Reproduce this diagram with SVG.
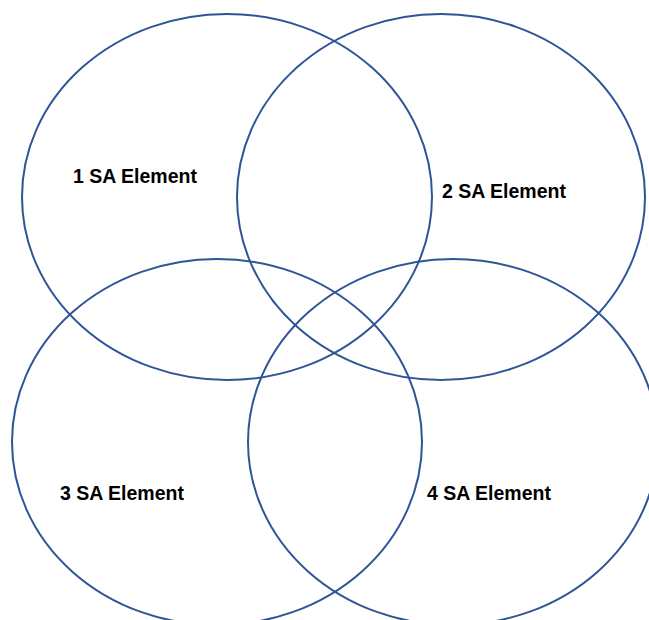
<svg xmlns="http://www.w3.org/2000/svg" width="649" height="620" viewBox="0 0 649 620">
<style>
.c{fill:none;stroke:#2F5597;stroke-width:2}
.t{font-family:"Liberation Sans",Arial,sans-serif;font-weight:bold;font-size:19.5px;fill:#000}
</style>
<rect width="649" height="620" fill="#fff"/>
<g id="n1"><ellipse class="c" cx="227" cy="197" rx="205" ry="183"/><text class="t" x="73" y="183">1 SA Element</text></g>
<g id="n2"><ellipse class="c" cx="441" cy="197" rx="204" ry="183"/><text class="t" x="442" y="198">2 SA Element</text></g>
<g id="n3"><ellipse class="c" cx="217" cy="442" rx="205" ry="183"/><text class="t" x="60" y="500">3 SA Element</text></g>
<g id="n4"><ellipse class="c" cx="453" cy="442" rx="205" ry="183"/><text class="t" x="427" y="500">4 SA Element</text></g>
<g id="connectors"/>
</svg>
